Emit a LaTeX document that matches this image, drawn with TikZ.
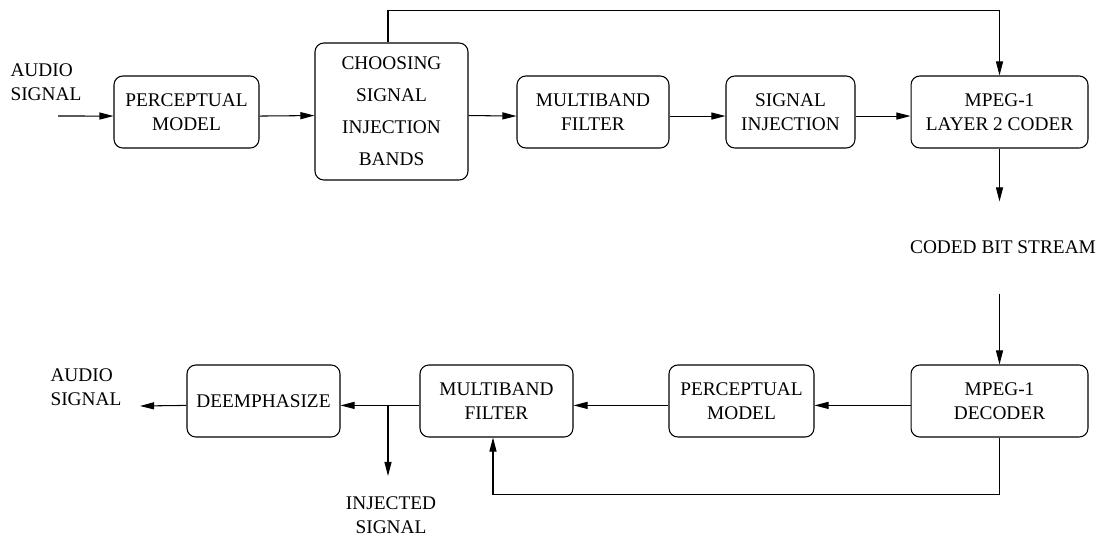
\documentclass[tikz,border=0pt]{standalone}
\usepackage{fontspec}
\setmainfont{Liberation Serif}
\usetikzlibrary{arrows.meta}

\begin{document}
\begin{tikzpicture}[x=0.02cm,y=-0.02cm,line width=0.6pt,
        font=\fontsize{11}{13.6}\selectfont,
        blk/.style={draw,rounded corners=5pt,inner sep=0pt,align=center,minimum height=1.44cm},
        lbl/.style={inner sep=0pt,align=center},
        arr/.style={-{Triangle[length=8pt,width=4pt]}}]
        \useasboundingbox (0,0) rectangle (1098,535);
        \node[lbl,align=left,anchor=west] (audioin) at (10,82) {AUDIO\\SIGNAL};
        \coordinate (in) at (58,116);
        \node[blk,minimum width=2.9cm] (perc1) at (186.5,112) {PERCEPTUAL\\MODEL};
        \node[blk,minimum width=3.06cm,minimum height=2.74cm,font=\fontsize{11}{18.2}\selectfont] (choose) at (391.5,111.5) {CHOOSING\\SIGNAL\\INJECTION\\BANDS};
        \node[blk,minimum width=3.04cm] (filt1) at (593,112) {MULTIBAND\\FILTER};
        \node[blk,minimum width=2.58cm] (inject) at (790.5,112) {SIGNAL\\INJECTION};
        \node[blk,minimum width=3.54cm] (coder) at (999.5,112) {MPEG-1\\LAYER 2 CODER};
        \draw[arr] (in) -- ([yshift=-2.3pt]perc1.west);
        \draw[arr] ([yshift=-2.3pt]perc1.east) -- ([yshift=-2.3pt]choose.west);
        \draw[arr] ([yshift=-2.3pt]choose.east) -- ([yshift=-2.3pt]filt1.west);
        \draw[arr] ([yshift=-2.3pt]filt1.east) -- ([yshift=-2.3pt]inject.west);
        \draw[arr] ([yshift=-2.3pt]inject.east) -- ([yshift=-2.3pt]coder.west);
        \draw[arr] ([xshift=-2pt]choose.north) -- ++(0,-32) -| (coder.north);
        \node[lbl,minimum height=1.82cm] (bits) at (1003,247.5) {CODED BIT STREAM};
        \node[blk,minimum width=3.54cm] (decoder) at (999.5,401) {MPEG-1\\DECODER};
        \node[blk,minimum width=2.9cm] (perc2) at (741.5,401) {PERCEPTUAL\\MODEL};
        \node[blk,minimum width=3.06cm] (filt2) at (496.5,401) {MULTIBAND\\FILTER};
        \node[blk,minimum width=3.06cm] (deemph) at (263.5,401) {DEEMPHASIZE};
        \node[lbl,align=left,anchor=west] (audioout) at (50,387) {AUDIO\\SIGNAL};
        \coordinate (out) at (140,406);
        \coordinate (split) at (388,406);
        \coordinate (injtip) at (388,476);
        \node[lbl] (injected) at (391,515) {INJECTED\\SIGNAL};
        \draw[arr] (coder.south) -- (coder.south |- bits.north);
        \draw[arr] (coder.south |- bits.south) -- (decoder.north);
        \draw[arr] ([yshift=-2.5pt]decoder.west) -- ([yshift=-2.5pt]perc2.east);
        \draw[arr] ([yshift=-2.5pt]perc2.west) -- ([yshift=-2.5pt]filt2.east);
        \draw[arr] ([yshift=-2.5pt]filt2.west) -- ([yshift=-2.5pt]deemph.east);
        \draw[arr] ([yshift=-2.5pt]deemph.west) -- (out);
        \draw[arr] (split) -- (injtip);
        \draw[arr] (decoder.south) -- ++(0,57) -| ([xshift=-2pt]filt2.south);
    \end{tikzpicture}
\end{document}
